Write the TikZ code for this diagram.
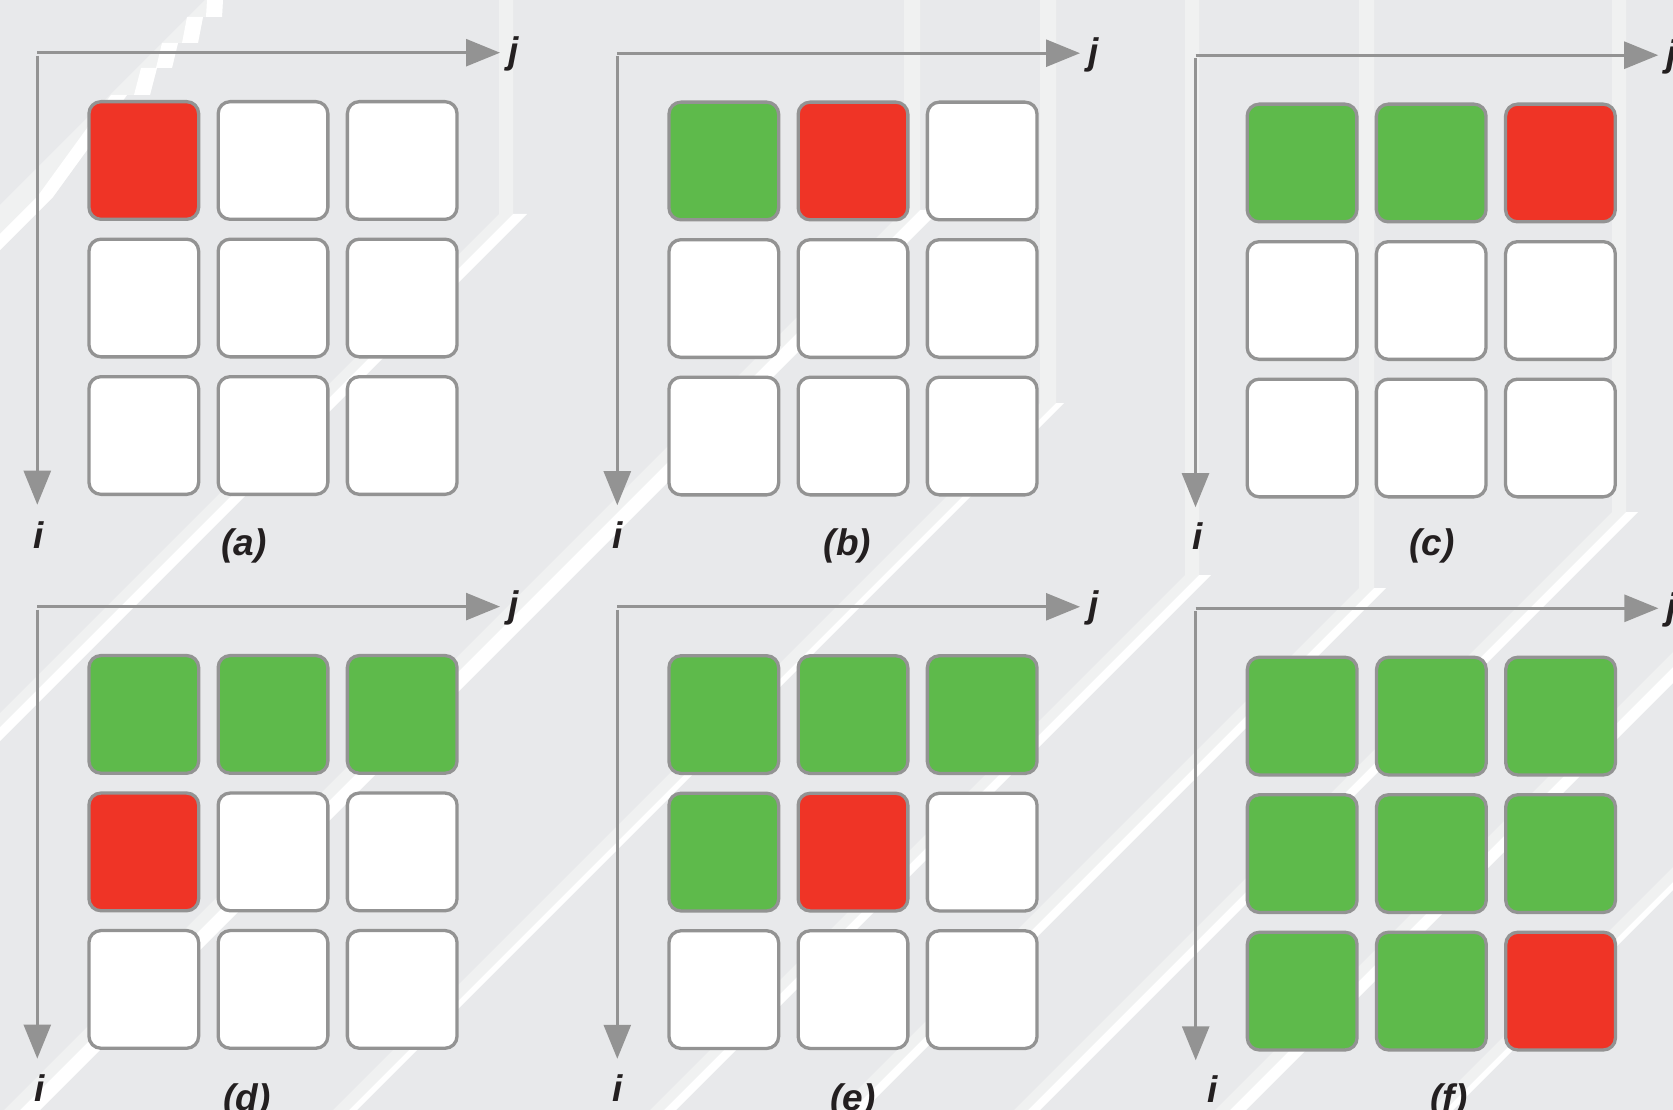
\documentclass[tikz,border=0pt]{standalone}
\usepackage{fontspec}
\setmainfont{Liberation Sans}
\usetikzlibrary{arrows.meta}
\definecolor{bggray}{HTML}{E8E9EB}
\definecolor{bandlight}{HTML}{F0F1F1}
\definecolor{edgegray}{HTML}{939393}
\definecolor{cgreen}{HTML}{5EBA4B}
\definecolor{cred}{HTML}{EF3426}
\definecolor{inkblack}{HTML}{231F20}
\tikzset{
  axisline/.style={draw=edgegray, line width=2.7pt, -{Triangle[length=34pt,width=27pt]}},
  cellbox/.style={draw=edgegray, line width=3.3pt, rounded corners=12pt, minimum width=109.7pt, minimum height=117.7pt, inner sep=0pt, outer sep=0pt, anchor=north west},
  axlabel/.style={text=inkblack, font=\fontsize{37}{44}\selectfont\bfseries\itshape, inner sep=0pt, anchor=base},
}
\newcommand\ribbon[4]{%
  \fill[bandlight] (#1,-5) -- (#2,-5) -- (#2,#3) -- ({-300},{#2+#3+300}) -- ({-300},{#1+#3+300}) -- (#1,#3) -- cycle;
  \fill[white] (#2,#3) -- ({#2+#4},#3) -- ({-300},{#2+#3+#4+300}) -- ({-300},{#2+#3+300}) -- cycle;
}
\newcommand\mkpanel[4]{%
  \coordinate (#1-o) at (#2,#3);
  \coordinate (#1-v) at (#2,#3+3);
  \coordinate (#1-j) at (#2+462.7,#3);
  \coordinate (#1-i) at (#2,#3+452);
  \draw[axisline] (#1-o) -- (#1-j);
  \draw[axisline] (#1-v) -- (#1-i);
  \foreach \cellcol [count=\k from 0] in {#4} {
    \pgfmathtruncatemacro\rr{int(\k/3)}
    \pgfmathtruncatemacro\cc{mod(\k,3)}
    \node[cellbox, fill=\cellcol] (#1-\rr\cc) at ({#2+51.65+129.2*\cc},{#3+48.95+137.5*\rr}) {};
  }
  \node[axlabel] (#1-jl) at (#2+476,#3+11) {j};
}
\begin{document}
\begin{tikzpicture}[x=1pt,y=-1pt]
\useasboundingbox (0,0) rectangle (1673,1110);
\fill[bggray] (0,0) rectangle (1673,1110);
\begin{scope}
  \clip (0,0) rectangle (1673,1110);
  % top-left staircase band
  \fill[bandlight] (0,205) -- (205,0) -- (223,0) -- (222,17) -- (203,17) -- (198,43) -- (178,43) -- (172,68) -- (157,68) -- (150,95) -- (127,95) -- (53,197) -- (0,250) -- cycle;
  \fill[white] (0,250) -- (53,197) -- (127,95) -- (150,95) -- (157,68) -- (172,68) -- (178,43) -- (198,43) -- (203,17) -- (222,17) -- (223,0)
     -- (207,0) -- (206,17) -- (187,17) -- (182,43) -- (162,43) -- (156,68) -- (141,68) -- (134,95) -- (111,95) -- (37,197) -- (0,234) -- cycle;
  % folded ribbons
  \ribbon{499}{513}{214}{14}
  \ribbon{904}{920}{210}{20}
  \ribbon{1040}{1056}{403}{8}
  \ribbon{1185}{1199}{575}{12}
  \ribbon{1359}{1374}{588}{12}
  \ribbon{1612}{1626}{512}{12}
  \ribbon{1700}{1715}{625}{16}
  \ribbon{1900}{1915}{640}{8}
\end{scope}

\mkpanel{a}{37.3}{52.7}{cred,white,white,white,white,white,white,white,white}
\mkpanel{b}{617.3}{53.2}{cgreen,cred,white,white,white,white,white,white,white}
\mkpanel{c}{1195.5}{55.2}{cgreen,cgreen,cred,white,white,white,white,white,white}
\mkpanel{d}{37.3}{606.6}{cgreen,cgreen,cgreen,cred,white,white,white,white,white}
\mkpanel{e}{617.3}{606.8}{cgreen,cgreen,cgreen,cgreen,cred,white,white,white,white}
\mkpanel{f}{1195.7}{608.3}{cgreen,cgreen,cgreen,cgreen,cgreen,cgreen,cgreen,cgreen,cred}

\node[axlabel] (a-il) at (39,548) {i};
\node[axlabel] (b-il) at (617.5,548) {i};
\node[axlabel] (c-il) at (1197.5,549) {i};
\node[axlabel] (d-il) at (39.5,1101) {i};
\node[axlabel] (e-il) at (618,1101) {i};
\node[axlabel] (f-il) at (1213,1102) {i};

\node[axlabel] (a-cap) at (244,555) {(a)};
\node[axlabel] (b-cap) at (847.5,555) {(b)};
\node[axlabel] (c-cap) at (1432,555) {(c)};
\node[axlabel] (d-cap) at (247,1110) {(d)};
\node[axlabel] (e-cap) at (853,1110) {(e)};
\node[axlabel] (f-cap) at (1449,1110) {(f)};
\end{tikzpicture}
\end{document}
